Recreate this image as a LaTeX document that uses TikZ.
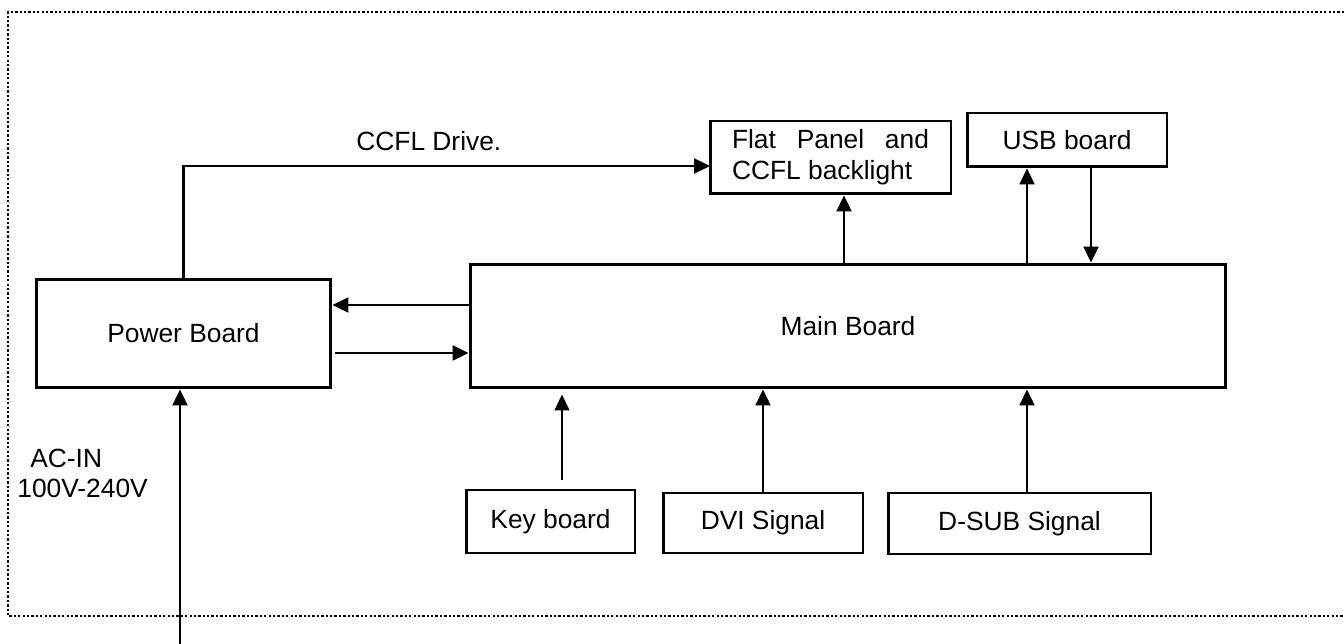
\documentclass[tikz,border=0pt]{standalone}
\usepackage{fontspec}
\setmainfont{Liberation Sans}
\usetikzlibrary{arrows.meta}
\begin{document}
\begin{tikzpicture}[x=0.02cm,y=-0.02cm,>={Triangle[length=0.32cm,width=0.3cm]},
  font=\fontsize{15}{17.6}\selectfont,
  blk/.style={draw,line width=1.7pt,inner sep=0pt},
  lbl/.style={inner sep=0pt,anchor=base west},
  lnk/.style={line width=1.3pt,->}]
 \useasboundingbox (0,0) rectangle (1344,644);
 % frame
 \draw[line width=1.3pt,dash pattern=on 1.3pt off 1.2pt] (1344,12) -- (8,12) -- (8,616) -- (1344,616);
 % boards
 \node[blk,minimum width=5.9cm,minimum height=2.18cm] (pwr) at (183.5,333.5) {Power Board};
 \node[blk,minimum width=15.12cm,minimum height=2.48cm] (main) at (848,326) {Main Board};
 \node[blk,minimum width=4.82cm,minimum height=1.46cm,align=left] (panel) at (830.5,157.5)
  {\makebox[3.94cm][s]{Flat Panel and}\\CCFL backlight};
 \node[blk,minimum width=4cm,minimum height=1.08cm] (usb) at (1067,140) {USB board};
 \node[blk,minimum width=3.38cm,minimum height=1.26cm] (key) at (550.5,521.5) {Key board};
 \node[blk,minimum width=4cm,minimum height=1.2cm] (dvi) at (763,523) {DVI Signal};
 \node[blk,minimum width=5.26cm,minimum height=1.22cm] (dsub) at (1019.5,523.5) {D-SUB Signal};
 % labels
 \node[lbl] (drvlbl) at (356,151) {CCFL Drive.};
 \node[lbl] (aclbl) at (30,468) {AC-IN};
 \node[lbl] (vlbl) at (17,498) {100V-240V};
 % links
 \coordinate (drv) at (710,166);
 \coordinate (ac) at (180,644);
 \draw[lnk] (pwr.north) |- (drv);
 \draw[lnk] ([yshift=0.42cm]main.west) -- ([yshift=0.42cm]main.west -| pwr.east);
 \draw[lnk] ([xshift=0.06cm,yshift=-0.54cm]main.west -| pwr.east) -- ([yshift=-0.54cm]main.west);
 \draw[lnk] ([xshift=0.27cm]panel.south |- main.north) -- ([xshift=0.27cm]panel.south);
 \draw[lnk] ([xshift=-0.8cm]usb.south |- main.north) -- ([xshift=-0.8cm]usb.south);
 \draw[lnk] ([xshift=0.48cm]usb.south) -- ([xshift=0.48cm]usb.south |- main.north);
 \draw[lnk,line width=0.8pt] ([xshift=0.23cm,yshift=0.18cm]key.north) -- ([xshift=0.23cm,yshift=-0.1cm]key.north |- main.south);
 \draw[lnk] (dvi.north) -- (dvi.north |- main.south);
 \draw[lnk] ([xshift=0.15cm]dsub.north) -- ([xshift=0.15cm]dsub.north |- main.south);
 \draw[lnk] (ac) -- (ac |- pwr.south);
\end{tikzpicture}
\end{document}
